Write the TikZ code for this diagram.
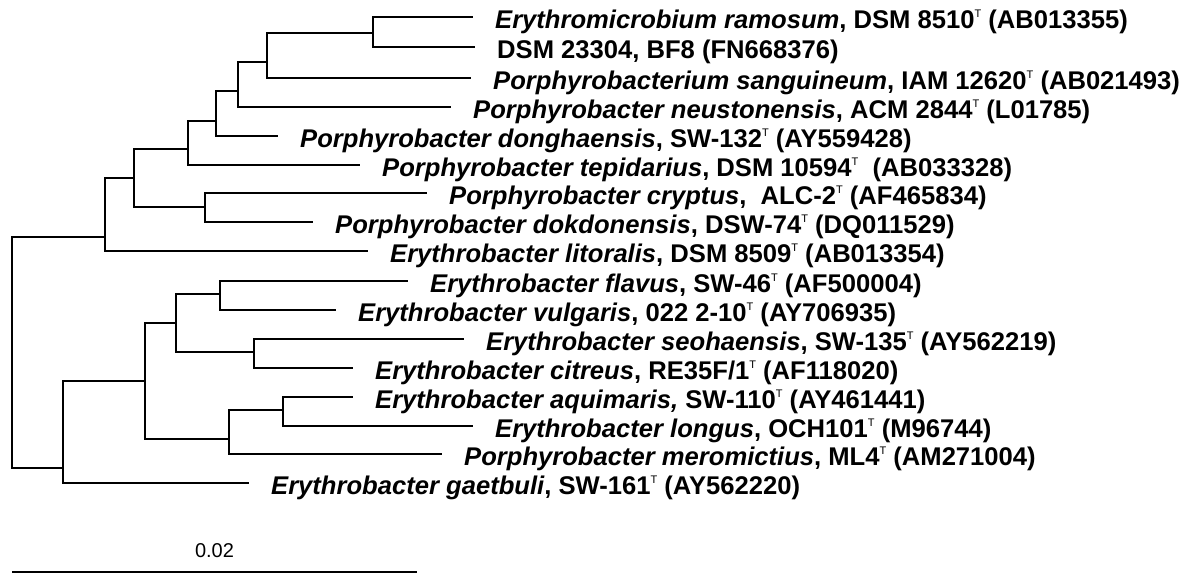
\documentclass[tikz,border=0pt]{standalone}
\usepackage{fontspec}
\setmainfont{Liberation Sans}
\newcommand{\typ}{\raisebox{11pt}{\fontsize{11}{11}\selectfont\mdseries T}}

\begin{document}
\begin{tikzpicture}[x=1pt,y=-1pt,
   leaf/.style={anchor=west,inner xsep=22pt,inner ysep=0pt,text height=22pt,text depth=0pt,
                font=\fontsize{25.6}{30}\selectfont\bfseries},
   br/.style={line width=2.4pt}]
  \useasboundingbox (0,0) rectangle (1199,574);
  \node[leaf] (l1)  at (473,17)  {\textit{Erythromicrobium ramosum}, DSM 8510\typ\ (AB013355)};
  \node[leaf] (l2)  at (475,47)  {DSM 23304, BF8 (FN668376)};
  \node[leaf] (l3)  at (471,78)  {\textit{Porphyrobacterium sanguineum}, IAM 12620\typ\ (AB021493)};
  \node[leaf] (l4)  at (451,107) {\textit{Porphyrobacter neustonensis}, ACM 2844\typ\ (L01785)};
  \node[leaf] (l5)  at (278,136) {\textit{Porphyrobacter donghaensis}, SW-132\typ\ (AY559428)};
  \node[leaf] (l6)  at (360,165) {\textit{Porphyrobacter tepidarius}, DSM 10594\typ\ \ (AB033328)};
  \node[leaf] (l7)  at (427,193) {\textit{Porphyrobacter cryptus}, \ ALC-2\typ\ (AF465834)};
  \node[leaf] (l8)  at (313,222) {\textit{Porphyrobacter dokdonensis}, DSW-74\typ\ (DQ011529)};
  \node[leaf] (l9)  at (368,251) {\textit{Erythrobacter litoralis}, DSM 8509\typ\ (AB013354)};
  \node[leaf] (l10) at (408,281) {\textit{Erythrobacter flavus}, SW-46\typ\ (AF500004)};
  \node[leaf] (l11) at (336,310) {\textit{Erythrobacter vulgaris}, 022 2-10\typ\ (AY706935)};
  \node[leaf] (l12) at (464,339) {\textit{Erythrobacter seohaensis}, SW-135\typ\ (AY562219)};
  \node[leaf] (l13) at (353,368) {\textit{Erythrobacter citreus}, RE35F/1\typ\ (AF118020)};
  \node[leaf] (l14) at (353,397) {\textit{Erythrobacter aquimaris,} SW-110\typ\ (AY461441)};
  \node[leaf] (l15) at (473,426) {\textit{Erythrobacter longus}, OCH101\typ\ (M96744)};
  \node[leaf] (l16) at (442,454) {\textit{Porphyrobacter meromictius}, ML4\typ\ (AM271004)};
  \node[leaf] (l17) at (249,483) {\textit{Erythrobacter gaetbuli}, SW-161\typ\ (AY562220)};

  \coordinate (root) at (12,352);
  \coordinate (nB)  at (105,237);
  \coordinate (nA)  at (134,178);
  \coordinate (n6)  at (188,149);
  \coordinate (n5)  at (216,121);
  \coordinate (n4)  at (238,91);
  \coordinate (n3)  at (267,62);
  \coordinate (n2)  at (373,33);
  \coordinate (n78) at (205,207);
  \coordinate (nC)  at (63,468);
  \coordinate (nD)  at (145,381);
  \coordinate (nE)  at (176,323);
  \coordinate (nG)  at (220,294);
  \coordinate (nH)  at (254,352);
  \coordinate (nF)  at (229,439);
  \coordinate (nI)  at (283,410);

  \draw[br] (root) |- (nB) (root) |- (nC);
  \draw[br] (nB) |- (nA) (nB) |- (l9);
  \draw[br] (nA) |- (n6) (nA) |- (n78);
  \draw[br] (n6) |- (n5) (n6) |- (l6);
  \draw[br] (n5) |- (n4) (n5) |- (l5);
  \draw[br] (n4) |- (n3) (n4) |- (l4);
  \draw[br] (n3) |- (n2) (n3) |- (l3);
  \draw[br] (n2) |- (l1) (n2) |- (l2);
  \draw[br] (n78) |- (l7) (n78) |- (l8);
  \draw[br] (nC) |- (nD) (nC) |- (l17);
  \draw[br] (nD) |- (nE) (nD) |- (nF);
  \draw[br] (nE) |- (nG) (nE) |- (nH);
  \draw[br] (nG) |- (l10) (nG) |- (l11);
  \draw[br] (nH) |- (l12) (nH) |- (l13);
  \draw[br] (nF) |- (nI) (nF) |- (l16);
  \draw[br] (nI) |- (l14) (nI) |- (l15);

  \coordinate (s0) at (12,572);
  \coordinate (s1) at (417,572);
  \draw[br] (s0) -- (s1)
       node[midway,anchor=base,yshift=15pt,font=\fontsize{20}{24}\selectfont]{0.02};
\end{tikzpicture}
\end{document}
